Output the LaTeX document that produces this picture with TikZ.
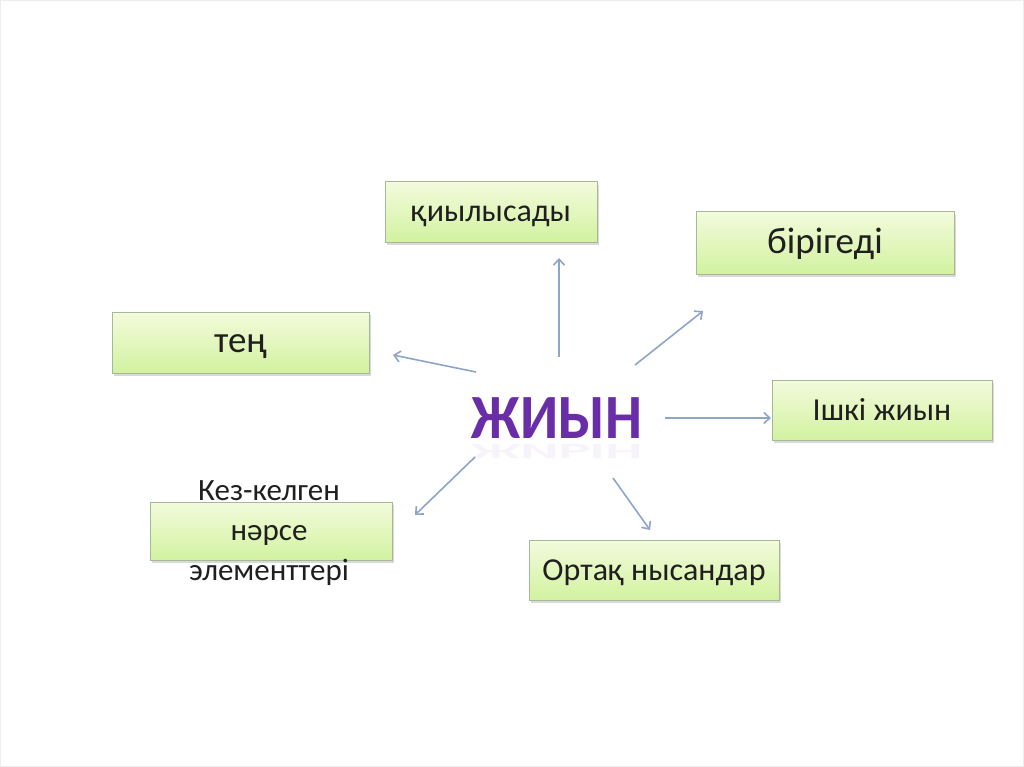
\documentclass[tikz,border=0pt]{standalone}
\usepackage{fontspec}
\setmainfont{Carlito}
\usetikzlibrary{arrows.meta,shadows}
\definecolor{boxtop}{HTML}{F3FBDC}
\definecolor{boxbot}{HTML}{D2F2A0}
\definecolor{boxline}{HTML}{A7B79A}
\definecolor{arrowc}{HTML}{8EA4C8}
\definecolor{purp}{HTML}{6A2DA8}
\definecolor{framec}{HTML}{EDEDED}
\begin{document}
\begin{tikzpicture}[x=1pt,y=-1pt,
  box/.style={draw=boxline, line width=1pt, top color=boxtop, bottom color=boxbot,
    drop shadow={opacity=0.3,shadow xshift=1.5pt,shadow yshift=-3pt},
    inner sep=0pt, text height=20pt, text depth=0pt,
    font=\fontsize{32}{36}\selectfont, text=black!88},
  bigtxt/.style={font=\fontsize{37}{42}\selectfont},
  conn/.style={draw=arrowc, line width=1.6pt, -{Straight Barb[length=6pt,width=11pt]}}]
\useasboundingbox (0,0) rectangle (1024,767);
\draw[framec, line width=1pt] (0.5,0.5) rectangle (1023.5,766.5);

% boxes
\node[box, minimum width=212pt, minimum height=60pt] (q) at (491,212) {қиылысады};
\node[box, bigtxt, minimum width=258pt, minimum height=62pt] (b) at (825,243) {бірігеді};
\node[box, bigtxt, minimum width=257pt, minimum height=61pt] (t) at (240.5,342.5) {тең};
\node[box, minimum width=220pt, minimum height=60pt] (i) at (882,410) {Ішкі жиын};
\node[box, minimum width=242pt, minimum height=58pt] (k) at (271,531) {};
\node[font=\fontsize{31}{40}\selectfont, text=black!88, align=center] (kt) at (269,533) {Кез-келген\\нәрсе\\элементтері};
\node[box, minimum width=250pt, minimum height=60pt] (o) at (654,570) {Ортақ нысандар};

% centre
\node[font=\fontsize{63}{72}\selectfont\bfseries, text=purp] (c) at (557,418) {\scalebox{0.93}[1]{ЖИЫН}};
\node[font=\fontsize{63}{72}\selectfont\bfseries, text=purp, opacity=0.06] (cr) at (557,452) {\scalebox{0.93}[-0.35]{ЖИЫН}};

% arrow ends
\coordinate (s1) at (476,372); \coordinate (e1) at (393,355);
\coordinate (s2) at (559,357); \coordinate (e2) at (559,258);
\coordinate (s3) at (635,365); \coordinate (e3) at (703,311);
\coordinate (s4) at (665,418); \coordinate (e4) at (771,418);
\coordinate (s5) at (613,478); \coordinate (e5) at (650,530);
\coordinate (s6) at (475,457); \coordinate (e6) at (415,515);

\draw[conn] (s1) -- (e1);
\draw[conn] (s2) -- (e2);
\draw[conn] (s3) -- (e3);
\draw[conn] (s4) -- (e4);
\draw[conn] (s5) -- (e5);
\draw[conn] (s6) -- (e6);
\end{tikzpicture}
\end{document}
